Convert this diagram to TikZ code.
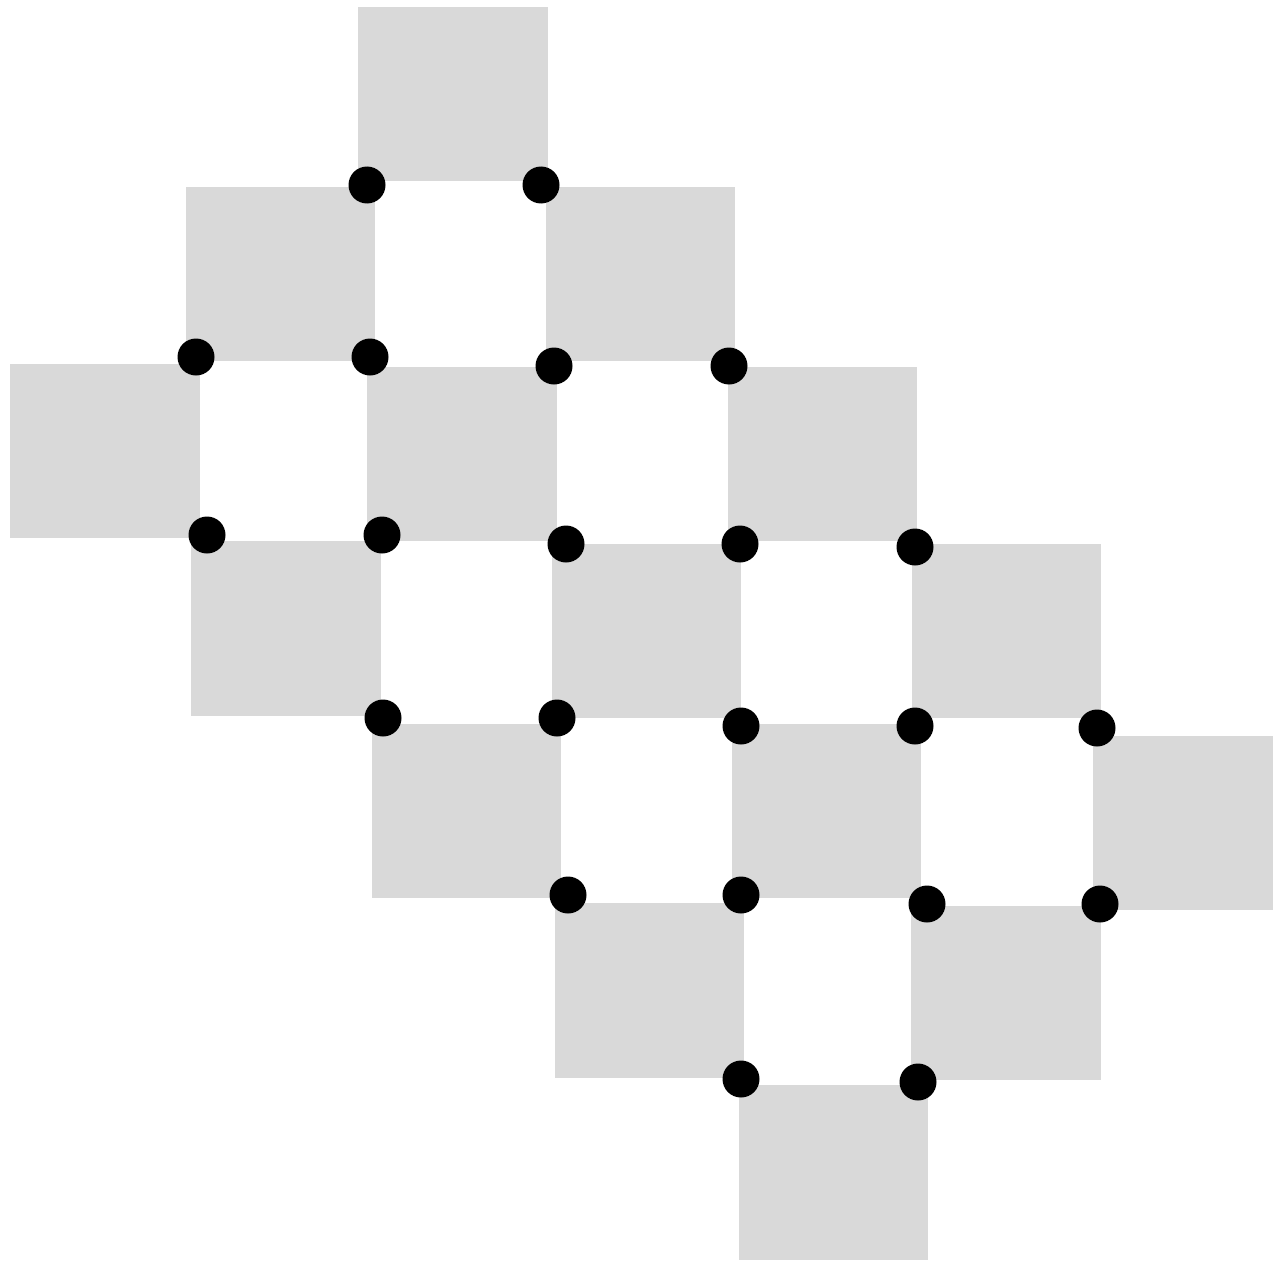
\documentclass[tikz,border=0pt]{standalone}
\definecolor{tile}{HTML}{D9D9D9}
\begin{document}
\begin{tikzpicture}[x=1pt,y=-1pt,
  tilebox/.style={fill=tile,draw=none},
  dot/.style={circle,fill=black,draw=none,minimum size=37pt,inner sep=0pt}]
\useasboundingbox (0,0) rectangle (1273,1260);
% tiles
\fill[tilebox] (358,7) rectangle (548,181);
\fill[tilebox] (186,187) rectangle (375,361);
\fill[tilebox] (546,187) rectangle (735,361);
\fill[tilebox] (10,364) rectangle (200,538);
\fill[tilebox] (367,367) rectangle (557,541);
\fill[tilebox] (728,367) rectangle (917,541);
\fill[tilebox] (191,541) rectangle (381,716);
\fill[tilebox] (552,544) rectangle (741,718);
\fill[tilebox] (912,544) rectangle (1101,718);
\fill[tilebox] (372,724) rectangle (561,898);
\fill[tilebox] (732,724) rectangle (921,898);
\fill[tilebox] (1093,736) rectangle (1273,910);
\fill[tilebox] (555,903) rectangle (744,1078);
\fill[tilebox] (911,906) rectangle (1101,1080);
\fill[tilebox] (739,1085) rectangle (928,1260);
% dots
\node[dot] (d1) at (367,185) {};
\node[dot] (d2) at (541,185) {};
\node[dot] (d3) at (196,357) {};
\node[dot] (d4) at (370,357) {};
\node[dot] (d5) at (554,366) {};
\node[dot] (d6) at (729,366) {};
\node[dot] (d7) at (207,535) {};
\node[dot] (d8) at (382,535) {};
\node[dot] (d9) at (566,544) {};
\node[dot] (d10) at (740,544) {};
\node[dot] (d11) at (915,547) {};
\node[dot] (d12) at (383,718) {};
\node[dot] (d13) at (557,718) {};
\node[dot] (d14) at (741,726) {};
\node[dot] (d15) at (915,726) {};
\node[dot] (d16) at (1097,728) {};
\node[dot] (d17) at (568,895) {};
\node[dot] (d18) at (741,895) {};
\node[dot] (d19) at (927,904) {};
\node[dot] (d20) at (1100,904) {};
\node[dot] (d21) at (741,1079) {};
\node[dot] (d22) at (918,1082) {};
\end{tikzpicture}
\end{document}
